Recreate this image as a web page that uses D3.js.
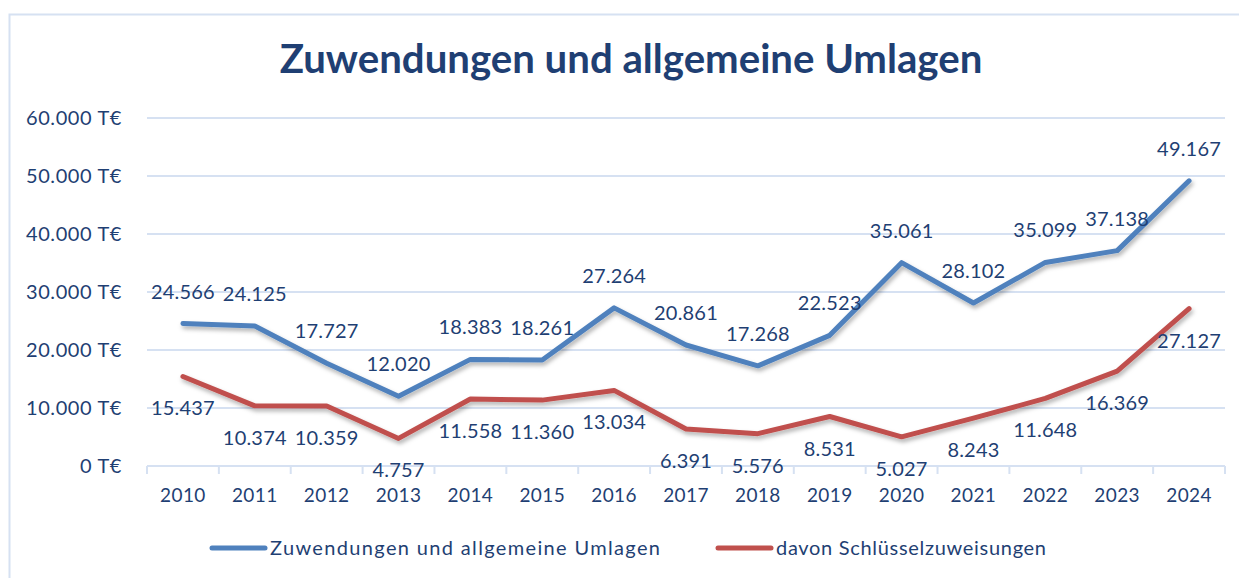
<!DOCTYPE html>
<html>
<head>
<meta charset="utf-8">
<script src="https://cdn.jsdelivr.net/npm/d3@7"></script>
<style>
  body { margin: 0; background: #fff; }
  svg { display: block; font-family: Lato, "Open Sans", sans-serif; }
</style>
</head>
<body>
<svg id="chart" width="1239" height="578"></svg>
<script>
// chart data
var years = ["2010","2011","2012","2013","2014","2015","2016","2017","2018","2019","2020","2021","2022","2023","2024"];
var zuwendungen = [24566,24125,17727,12020,18383,18261,27264,20861,17268,22523,35061,28102,35099,37138,49167];
var schluessel = [15437,10374,10359,4757,11558,11360,13034,6391,5576,8531,5027,8243,11648,16369,27127];
var yTicks = [0,10000,20000,30000,40000,50000,60000];
var seriesNames = ["Zuwendungen und allgemeine Umlagen","davon Schlüsselzuweisungen"];
var seriesColors = ["#4F81BD","#C0504D"];
var title = "Zuwendungen und allgemeine Umlagen";

var textColor = "#1F3F73";
var gridColor = "#D6E1F2";
var fmt = function(v) { return d3.format(",")(v).replace(/,/g, "."); };

var svg = d3.select("#chart");

// outer frame (left + top edge visible)
svg.append("path")
  .attr("d", "M9.5,578 L9.5,14.5 L1239,14.5")
  .attr("fill", "none").attr("stroke", gridColor).attr("stroke-width", 2);

var x = d3.scaleBand().domain(years).range([147, 1225]);
var y = d3.scaleLinear().domain([0, 60000]).range([466, 118]);

// shadow filter for the lines
var defs = svg.append("defs");
var f = defs.append("filter").attr("id", "shadow").attr("x", "-5%").attr("y", "-20%").attr("width", "110%").attr("height", "140%");
f.append("feDropShadow").attr("dx", 1.5).attr("dy", 3).attr("stdDeviation", 2)
  .attr("flood-color", "#000").attr("flood-opacity", 0.3);

// title
var t = svg.append("text")
  .attr("x", 631).attr("y", 73)
  .attr("text-anchor", "middle")
  .attr("font-weight", "bold").attr("font-size", 34)
  .attr("fill", textColor)
  .text(title);
var tw = t.node().getComputedTextLength();
t.attr("font-size", 34 * 703 / tw);

// gridlines
svg.append("g").selectAll("line").data(yTicks.slice(1)).enter().append("line")
  .attr("x1", 147).attr("x2", 1225)
  .attr("y1", function(d) { return y(d); }).attr("y2", function(d) { return y(d); })
  .attr("stroke", gridColor).attr("stroke-width", 2);

// y labels
var yAxis = d3.axisLeft(y).tickValues(yTicks).tickSize(0).tickPadding(0)
  .tickFormat(function(d) { return fmt(d) + " T€"; });
var yg = svg.append("g").attr("transform", "translate(122,0)").call(yAxis);
yg.select(".domain").remove();
yg.selectAll("text").attr("fill", textColor).attr("font-size", 20)
  .attr("letter-spacing", 0.6).attr("font-family", "Lato, sans-serif");

// x axis
var xg = svg.append("g").attr("transform", "translate(0,466)");
xg.append("line").attr("x1", 147).attr("x2", 1225).attr("stroke", gridColor).attr("stroke-width", 2);
var bounds = years.map(function(d) { return x(d); }).concat([x(years[years.length - 1]) + x.bandwidth()]);
xg.selectAll(".tk").data(bounds).enter().append("line").attr("class", "tk")
  .attr("x1", function(d) { return d; }).attr("x2", function(d) { return d; })
  .attr("y1", 0).attr("y2", 8)
  .attr("stroke", gridColor).attr("stroke-width", 2);
xg.selectAll(".yl").data(years).enter().append("text").attr("class", "yl")
  .attr("x", function(d) { return x(d) + x.bandwidth() / 2; })
  .attr("y", 36)
  .attr("text-anchor", "middle")
  .attr("font-size", 19).attr("letter-spacing", 0.4).attr("fill", textColor)
  .text(function(d) { return d; });

// lines
var line = d3.line()
  .x(function(d, i) { return x(years[i]) + x.bandwidth() / 2; })
  .y(function(d) { return y(d); });

[zuwendungen, schluessel].forEach(function(series, s) {
  svg.append("path")
    .datum(series)
    .attr("d", line)
    .attr("fill", "none")
    .attr("stroke", seriesColors[s])
    .attr("stroke-width", 5)
    .attr("stroke-linejoin", "round")
    .attr("stroke-linecap", "round")
    .attr("filter", "url(#shadow)");
});

// data labels
[zuwendungen, schluessel].forEach(function(series, s) {
  svg.append("g").selectAll("text").data(series).enter().append("text")
    .attr("x", function(d, i) { return x(years[i]) + x.bandwidth() / 2; })
    .attr("y", function(d) { return y(d) + (s === 0 ? -32 : 32); })
    .attr("dy", "0.35em")
    .attr("text-anchor", "middle")
    .attr("font-size", 20).attr("letter-spacing", 0.2).attr("fill", textColor)
    .text(function(d) { return fmt(d); });
});

// legend
var legendX = [212, 718];
var legendW = [390, 270];
seriesNames.forEach(function(name, s) {
  var g = svg.append("g").attr("transform", "translate(" + legendX[s] + ",548)");
  g.append("line").attr("x1", 0).attr("x2", 53)
    .attr("stroke", seriesColors[s]).attr("stroke-width", 5).attr("stroke-linecap", "round");
  g.append("text").attr("x", 58).attr("dy", "0.35em")
    .attr("font-size", 20).attr("fill", textColor)
    .attr("textLength", legendW[s]).attr("lengthAdjust", "spacing")
    .text(name);
});
</script>
</body>
</html>
